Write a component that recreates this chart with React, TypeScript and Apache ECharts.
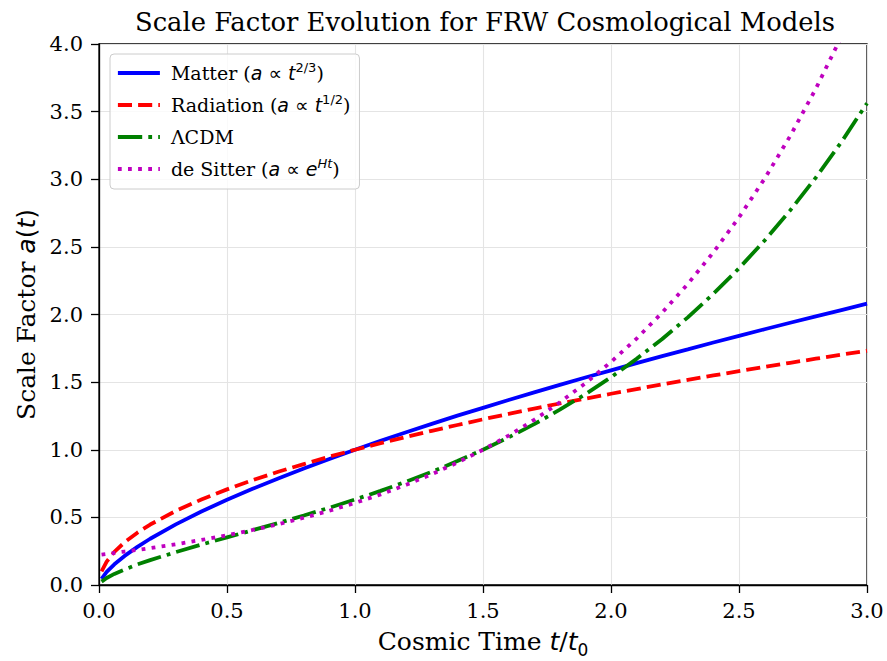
import React, { useEffect, useRef } from "react";
import * as echarts from "echarts";

// Time in units of t0
const times = [
  0.01, 0.03, 0.06, 0.1, 0.15, 0.2, 0.3, 0.4, 0.5, 0.6, 0.7, 0.8, 0.9, 1.0,
  1.1, 1.2, 1.3, 1.4, 1.5, 1.6, 1.7, 1.8, 1.9, 2.0, 2.1, 2.2, 2.3, 2.4, 2.5,
  2.6, 2.7, 2.8, 2.9, 3.0,
];

// Scale factor for each model
const matter = [
  0.046, 0.097, 0.153, 0.215, 0.282, 0.342, 0.448, 0.543, 0.63, 0.711, 0.788,
  0.862, 0.932, 1.0, 1.066, 1.129, 1.191, 1.252, 1.31, 1.368, 1.424, 1.48,
  1.534, 1.587, 1.64, 1.692, 1.742, 1.793, 1.842, 1.891, 1.939, 1.986, 2.033,
  2.08,
];
const radiation = [
  0.1, 0.173, 0.245, 0.316, 0.387, 0.447, 0.548, 0.632, 0.707, 0.775, 0.837,
  0.894, 0.949, 1.0, 1.049, 1.095, 1.14, 1.183, 1.225, 1.265, 1.304, 1.342,
  1.378, 1.414, 1.449, 1.483, 1.517, 1.549, 1.581, 1.612, 1.643, 1.673, 1.703,
  1.732,
];
const lcdm = [
  0.025, 0.052, 0.082, 0.115, 0.152, 0.184, 0.243, 0.299, 0.352, 0.405, 0.458,
  0.514, 0.571, 0.632, 0.696, 0.764, 0.837, 0.916, 1.0, 1.091, 1.189, 1.296,
  1.411, 1.536, 1.672, 1.819, 1.979, 2.153, 2.342, 2.547, 2.77, 3.012, 3.275,
  3.562,
];
const deSitter = [
  0.225, 0.23, 0.237, 0.247, 0.259, 0.273, 0.301, 0.333, 0.368, 0.407, 0.449,
  0.497, 0.549, 0.607, 0.67, 0.741, 0.819, 0.905, 1.0, 1.105, 1.221, 1.35,
  1.492, 1.649, 1.822, 2.014, 2.226, 2.46, 2.718, 3.004, 3.32, 3.669, 4.055,
  4.482,
];

const seriesNames = ["Matter", "Radiation", "ΛCDM", "de Sitter"];
const legendLabels = [
  "Matter ({m|a} {o|∝} {m|t}{s|2/3}{o|})",
  "Radiation ({m|a} {o|∝} {m|t}{s|1/2}{o|})",
  "ΛCDM",
  "de Sitter ({m|a} {o|∝} {m|e}{si|Ht}{o|})",
];
const xTicks = { min: 0, max: 3, step: 0.5 };
const yTicks = { min: 0, max: 4, step: 0.5 };

const SERIF = "'DejaVu Serif', serif";
const SANS = "'DejaVu Sans', sans-serif";
const LW = 3.8;

const pairs = (ys: number[]) => times.map((t, i) => [t, ys[i]]);

export default function App() {
  const ref = useRef<HTMLDivElement>(null);

  useEffect(() => {
    if (!ref.current) return;
    const chart = echarts.init(ref.current, undefined, { renderer: "svg" });

    const LF = 19;
    const mathRich = {
      m: { fontFamily: SANS, fontStyle: "italic", fontSize: LF },
      o: { fontFamily: SANS, fontSize: LF },
      s: { fontFamily: SANS, fontSize: 13, verticalAlign: "top", lineHeight: 15 },
      si: {
        fontFamily: SANS,
        fontStyle: "italic",
        fontSize: 13,
        verticalAlign: "top",
        lineHeight: 15,
      },
    };

    const labelMap: Record<string, string> = {};
    seriesNames.forEach((n, i) => (labelMap[n] = legendLabels[i]));

    const styles = [
      { color: "#0000ff", type: "solid" as any },
      { color: "#ff0000", type: [14.1, 6.1] },
      { color: "#008000", type: [24.3, 6.1, 3.8, 6.1] },
      { color: "#bf00bf", type: [3.8, 6.3] },
    ];
    const values = [matter, radiation, lcdm, deSitter];

    chart.setOption({
      animation: false,
      backgroundColor: "#ffffff",
      title: {
        text: "Scale Factor Evolution for FRW Cosmological Models",
        left: 480,
        textAlign: "center",
        top: 4,
        textStyle: {
          fontFamily: SERIF,
          fontSize: 25.8,
          fontWeight: "normal",
          color: "#000",
        },
      },
      grid: {
        left: 99,
        top: 44,
        right: 20,
        bottom: 76,
        show: true,
        borderColor: "#000",
        borderWidth: 1.3,
        backgroundColor: "transparent",
        outerBoundsMode: "none",
        containLabel: false,
      },
      legend: {
        left: 110,
        top: 54,
        orient: "vertical",
        data: seriesNames,
        itemWidth: 42,
        itemHeight: 16,
        itemGap: 8,
        padding: [7, 9, 8, 6],
        backgroundColor: "rgba(255,255,255,0.8)",
        borderColor: "#cccccc",
        borderWidth: 1,
        borderRadius: 4,
        itemStyle: { opacity: 0 },
        lineStyle: { width: LW },
        formatter: (name: string) => labelMap[name] ?? name,
        textStyle: {
          fontFamily: SERIF,
          fontSize: LF,
          color: "#000",
          lineHeight: 24,
          padding: [0, 0, 0, 6],
          rich: mathRich,
        },
      },
      xAxis: {
        type: "value",
        min: xTicks.min,
        max: xTicks.max,
        interval: xTicks.step,
        name: "Cosmic Time {i|t}/{i|t}{sub|0}",
        nameLocation: "middle",
        nameGap: 44,
        nameTextStyle: {
          fontFamily: SERIF,
          fontSize: 25,
          color: "#000",
          rich: {
            i: { fontFamily: SANS, fontStyle: "italic", fontSize: 25 },
            sub: { fontFamily: SANS, fontSize: 17, verticalAlign: "bottom", lineHeight: 25, padding: [0, 0, -4, 0] },
          },
        },
        axisLine: { show: true, lineStyle: { color: "#000", width: 1.3 } },
        axisTick: { show: true, length: 8, lineStyle: { color: "#000", width: 1.3 } },
        axisLabel: {
          fontFamily: SERIF,
          fontSize: 21,
          color: "#000",
          margin: 15,
          formatter: (v: number) => v.toFixed(1),
        },
        splitLine: { show: true, lineStyle: { color: "#e4e4e4", width: 1.1 } },
      },
      yAxis: {
        type: "value",
        min: yTicks.min,
        max: yTicks.max,
        interval: yTicks.step,
        name: "Scale Factor {i|a}{o|(}{i|t}{o|)}",
        nameLocation: "middle",
        nameGap: 60,
        nameRotate: 90,
        nameTextStyle: {
          fontFamily: SERIF,
          fontSize: 25,
          color: "#000",
          rich: {
            i: { fontFamily: SANS, fontStyle: "italic", fontSize: 25 },
            o: { fontFamily: SANS, fontSize: 25 },
          },
        },
        axisLine: { show: true, lineStyle: { color: "#000", width: 1.3 } },
        axisTick: { show: true, length: 8, lineStyle: { color: "#000", width: 1.3 } },
        axisLabel: {
          fontFamily: SERIF,
          fontSize: 21,
          color: "#000",
          margin: 16,
          formatter: (v: number) => v.toFixed(1),
        },
        splitLine: { show: true, lineStyle: { color: "#e4e4e4", width: 1.1 } },
      },
      series: seriesNames.map((name, i) => ({
        name,
        type: "line",
        data: pairs(values[i]),
        showSymbol: false,
        symbol: "none",
        clip: true,
        z: 2 + i,
        itemStyle: { color: styles[i].color },
        lineStyle: {
          color: styles[i].color,
          width: LW,
          type: styles[i].type,
          cap: "butt",
        },
      })),
    });

    return () => chart.dispose();
  }, []);

  return (
    <div
      ref={ref}
      style={{ position: "fixed", left: 0, top: 0, width: 887, height: 661 }}
    />
  );
}
